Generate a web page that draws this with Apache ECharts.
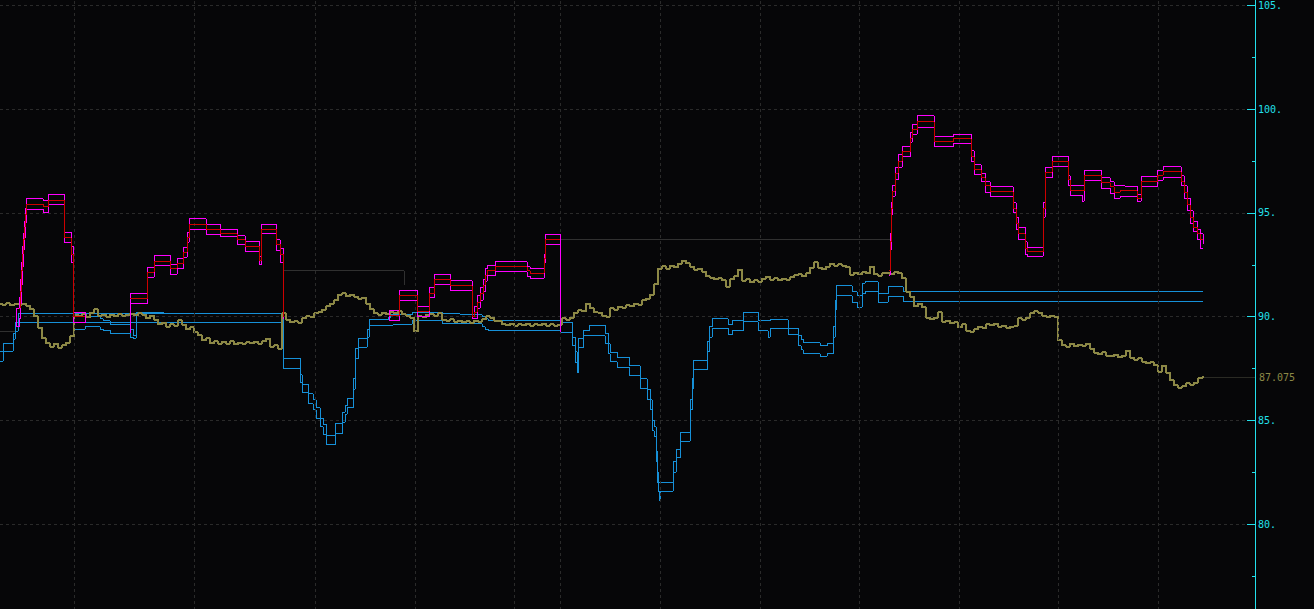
<!DOCTYPE html>
<html>
<head>
<meta charset="utf-8">
<script src="https://cdn.jsdelivr.net/npm/echarts@6/dist/echarts.min.js"></script>
<style>
html,body{margin:0;padding:0;background:#060608;}
#c{width:1314px;height:609px;}
#c svg path{shape-rendering:crispEdges;}
</style>
</head>
<body>
<div id="c"></div>
<script>
// ---------- DATA ----------
const X_MAX = 1255;                // session index at the axis
const monthLines = [74, 194, 315, 415, 514, 560, 660, 760, 859, 959, 1058, 1158];
const yTicks = [75, 80, 85, 90, 95, 100, 105, 110];

// price, one value every PRICE_STEP sessions from PRICE_START
const PRICE_START = 0, PRICE_STEP = 4;
const price = [
90.62,90.58,90.64,90.55,90.60,90.57,90.63,90.52,90.35,90.02,
89.45,88.95,88.72,88.55,88.68,88.50,88.62,88.75,89.05,90.10,
90.02,90.12,89.98,90.18,90.35,90.05,90.10,89.98,90.08,90.02,
90.12,90.04,90.10,90.14,90.06,90.16,90.08,89.92,90.05,89.85,
89.62,89.70,89.50,89.62,89.55,89.82,89.60,89.40,89.48,89.25,
89.10,88.85,88.95,88.72,88.80,88.68,88.78,88.70,88.80,88.66,
88.74,88.70,88.76,88.72,88.78,88.70,88.82,88.92,88.55,88.62,
88.45,90.15,89.85,89.72,89.78,89.70,89.92,90.02,89.98,90.15,
90.20,90.32,90.50,90.62,90.80,91.05,91.12,90.98,91.05,90.95,
90.85,90.90,90.62,90.35,90.15,90.08,90.18,90.12,90.22,90.15,
90.25,90.12,90.05,89.95,89.30,90.02,89.98,90.08,90.12,90.05,
90.15,89.85,89.80,89.88,89.75,89.80,89.72,89.78,89.70,89.80,
89.76,89.88,90.02,89.95,89.80,89.78,89.62,89.58,89.65,89.55,
89.62,89.58,89.65,89.55,89.62,89.58,89.66,89.56,89.62,89.55,
89.60,89.92,89.85,89.95,90.18,90.30,90.25,90.62,90.40,90.22,
90.18,90.05,90.00,90.40,90.32,90.48,90.42,90.55,90.50,90.62,
90.58,90.78,90.85,91.05,91.55,92.30,92.42,92.30,92.45,92.38,
92.55,92.70,92.58,92.40,92.25,92.30,92.15,91.95,91.88,91.80,
91.85,91.75,91.45,91.80,91.95,92.25,91.72,91.80,91.65,91.75,
91.68,91.82,91.92,91.78,91.85,91.75,91.82,91.78,91.90,92.00,
92.05,91.95,92.10,92.35,92.62,92.35,92.28,92.40,92.55,92.45,
92.52,92.45,92.38,92.02,92.12,92.05,92.15,92.10,92.40,92.05,
91.98,92.08,92.12,92.05,92.15,92.10,91.85,91.20,90.95,90.50,
90.62,90.45,89.95,89.88,89.95,90.22,89.75,89.80,89.68,89.72,
89.48,89.62,89.32,89.28,89.40,89.52,89.45,89.62,89.58,89.65,
89.50,89.55,89.45,89.52,89.55,89.92,89.85,89.95,90.15,90.25,
90.18,90.05,89.98,90.05,89.98,88.85,88.62,88.55,88.68,88.58,
88.65,88.60,88.68,88.45,88.25,88.18,88.28,88.12,88.08,88.15,
88.05,88.12,88.35,88.02,87.92,88.00,87.82,87.75,87.80,87.65,
87.35,87.62,87.30,86.92,86.70,86.58,86.65,86.78,86.72,86.80,
87.02,87.075
];

// upper band (magenta outer high), as [session, level] step points, per segment
const upperHi = [
 [[16,89.5],[16,90.4],[19,90.9],[20,91.8],[21,92.6],[22,93.4],[23,94.0],[24,94.6],[25,95.2],[26,95.68],[43,95.62],[48,95.89],[64,94.06],[71,93.4],[73,90.2],[85,89.7]],
 [[130,89.2],[130,91.11],[147,92.37],[154,92.96],[170,92.52],[177,92.8],[183,93.34],[187,94.06],[189,94.72],[206,94.45],[220,94.2],[237,93.9],[245,93.63],[259,92.9],[261,94.46],[276,93.7],[280,93.3],[283,89.9]],
 [[389,89.8],[389,90.3],[399,91.26],[417,90.5],[429,91.4],[434,92.04],[450,91.72],[472,90.0],[474,90.5],[477,91.0],[480,91.4],[483,91.8],[485,92.3],[487,92.44],[495,92.64],[527,92.4],[530,92.32],[544,93.0],[545,93.96],[560,89.25]],
 [[889,92.2],[890,94.0],[891,95.5],[892,96.3],[895,97.2],[898,97.8],[902,98.2],[910,98.9],[912,99.25],[917,99.69],[934,98.66],[953,98.8],[971,98.0],[974,97.33],[981,96.9],[985,96.5],[990,96.26],[1013,95.5],[1016,94.8],[1018,94.3],[1025,93.6],[1027,93.33],[1043,95.5],[1045,97.2],[1052,97.73],[1068,96.8],[1070,96.32],[1084,97.06],[1101,96.7],[1110,96.5],[1114,96.3],[1120,96.29],[1137,95.9],[1141,96.74],[1157,97.06],[1163,97.22],[1181,96.8],[1184,96.3],[1187,95.7],[1190,95.1],[1193,94.6],[1197,94.2],[1200,94.0],[1203,93.5]]
];
// upper band mid (red)
const upperMid = [
 [[19,90.4],[20,91.2],[21,92.2],[22,93.0],[23,93.7],[24,94.3],[25,94.9],[26,95.41],[43,95.3],[48,95.62],[64,93.8],[71,93.0],[73,90.0],[85,90.0]],
 [[130,90.87],[147,92.13],[154,92.68],[170,92.32],[177,92.55],[183,93.1],[187,93.8],[189,94.45],[206,94.2],[220,94.0],[237,93.7],[245,93.4],[259,92.7],[261,94.22],[276,93.5],[280,93.0],[283,90.0]],
 [[389,90.05],[399,91.02],[417,90.27],[429,91.1],[434,91.8],[450,91.48],[472,90.0],[474,90.2],[477,90.7],[480,91.1],[483,91.5],[485,92.0],[487,92.2],[495,92.4],[527,92.2],[530,92.1],[544,92.8],[545,93.72],[560,93.72]],
 [[889,92.2],[890,93.6],[891,95.2],[892,96.05],[895,96.9],[898,97.5],[902,97.95],[910,98.6],[912,99.0],[917,99.39],[934,98.42],[953,98.57],[971,97.7],[974,97.09],[981,96.7],[985,96.3],[990,96.03],[1013,95.2],[1016,94.5],[1018,94.0],[1025,93.3],[1027,93.12],[1043,95.2],[1045,96.95],[1052,97.49],[1068,96.6],[1070,96.08],[1084,96.82],[1101,96.45],[1110,96.25],[1114,96.0],[1120,96.06],[1137,95.7],[1141,96.5],[1157,96.82],[1163,96.98],[1181,96.5],[1184,96.0],[1187,95.4],[1190,94.8],[1193,94.3],[1197,94.0],[1200,93.7],[1203,93.7]]
];
// upper band (magenta outer low)
const upperLo = [
 [[16,89.5],[19,89.9],[20,90.6],[21,91.5],[22,92.4],[23,93.2],[24,93.8],[25,94.5],[26,95.17],[43,95.0],[48,95.41],[64,93.58],[71,92.6],[73,89.7],[85,89.7]],
 [[130,90.63],[147,91.89],[154,92.44],[170,92.04],[177,92.3],[183,92.86],[187,93.58],[189,94.2],[206,93.97],[220,93.85],[237,93.5],[245,93.15],[259,92.5],[261,94.0],[276,93.2],[280,92.6],[283,89.9]],
 [[389,89.8],[399,90.8],[417,90.0],[429,90.9],[434,91.56],[450,91.27],[472,89.9],[474,89.9],[477,90.4],[480,90.8],[483,91.2],[485,91.7],[487,91.96],[495,92.16],[527,91.95],[530,91.84],[544,92.6],[545,93.48],[560,89.25]],
 [[889,92.0],[890,93.2],[891,94.9],[892,95.8],[895,96.6],[898,97.2],[902,97.7],[910,98.4],[912,98.8],[917,99.14],[934,98.18],[953,98.33],[971,97.5],[974,96.85],[981,96.5],[985,96.0],[990,95.78],[1013,95.0],[1016,94.2],[1018,93.7],[1025,93.0],[1027,92.9],[1043,94.8],[1045,96.7],[1052,97.25],[1068,96.3],[1070,95.84],[1082,95.57],[1084,96.58],[1101,96.2],[1110,95.95],[1114,95.7],[1120,95.81],[1137,95.57],[1141,96.26],[1157,96.58],[1163,96.72],[1181,96.3],[1184,95.7],[1187,95.1],[1190,94.5],[1193,94.1],[1197,93.7],[1200,93.3],[1203,93.3]]
];

// lower band (blue high / blue low)
const lowerHi = [[0,88.3],[3,88.68],[13,89.2],[15,89.7],[18,90.16],[73,89.7],[85,90.0],[100,89.9],[103,89.8],[110,89.64],[130,89.4],[133,89.1],[136,90.2],[163,90.16],[283,87.99],[300,87.2],[302,86.75],[308,86.27],[313,86.0],[316,85.6],[320,85.1],[323,84.8],[326,84.27],[335,84.83],[342,85.4],[345,85.7],[347,86.03],[353,87.0],[355,88.44],[358,88.92],[367,89.4],[369,89.86],[388,89.95],[390,90.1],[412,90.22],[442,90.14],[460,90.1],[482,90.0],[485,89.9],[488,89.8],[560,89.73],[572,89.0],[575,88.3],[577,87.63],[578,88.92],[583,89.32],[589,89.59],[605,89.2],[608,88.7],[610,88.28],[617,88.04],[629,87.64],[640,87.0],[647,86.5],[650,86.0],[652,85.0],[654,84.7],[656,83.5],[657,82.5],[658,82.0],[673,83.0],[676,83.6],[680,84.43],[690,86.0],[692,87.0],[693,87.9],[707,88.8],[709,89.5],[712,89.9],[728,89.6],[732,89.8],[743,90.22],[758,89.8],[770,89.84],[788,89.44],[798,89.1],[801,88.9],[803,88.73],[820,88.6],[827,88.7],[833,89.5],[835,90.8],[836,91.49],[852,91.2],[857,91.0],[862,91.6],[865,91.69],[878,91.1],[888,91.45],[903,91.19],[1203,91.19]];
const lowerLo = [[0,87.85],[3,88.34],[13,88.9],[15,89.3],[18,89.7],[73,89.4],[85,89.5],[100,89.4],[103,89.33],[110,89.2],[130,89.0],[133,88.95],[136,89.72],[163,89.7],[283,87.48],[300,86.8],[302,86.35],[308,85.8],[313,85.5],[316,85.1],[320,84.7],[323,84.3],[326,83.82],[335,84.35],[342,84.9],[345,85.3],[347,85.6],[353,86.5],[355,87.96],[358,88.52],[367,89.0],[369,89.59],[390,89.62],[412,89.82],[442,89.66],[482,89.5],[485,89.4],[488,89.32],[560,89.25],[572,88.6],[575,87.8],[577,87.3],[578,88.5],[583,89.08],[605,88.7],[608,88.2],[610,87.83],[617,87.56],[629,87.16],[640,86.52],[647,86.0],[650,85.5],[652,84.5],[654,84.2],[656,83.0],[657,82.0],[658,81.58],[659,81.15],[660,81.58],[673,82.5],[676,83.2],[680,83.98],[690,85.5],[692,86.5],[693,87.44],[707,88.3],[709,89.0],[712,89.44],[728,89.12],[732,89.32],[743,89.74],[758,89.32],[768,89.0],[770,89.44],[788,89.12],[798,88.6],[801,88.4],[803,88.2],[820,88.1],[827,88.2],[833,89.0],[835,90.3],[836,91.01],[852,90.7],[857,90.45],[862,91.1],[865,91.19],[878,90.7],[888,90.97],[903,90.73],[1203,90.73]];

// held lower-band levels (blue) and held stop levels (grey)
const lowerHold = [
 [[73,90.16],[163,90.16]],
 [[73,89.7],[163,89.7]]
];
const greyHold = [
 [[0,89.3],[15,89.3]],
 [[283,92.2],[404,92.2],[404,91.5]],
 [[560,93.72],[890,93.72]]
];

// ---------- CHART ----------
const C = {
  bg:'#060608', grid:'#2a2a2a', cyan:'#22e0ec', olive:'#8c8846',
  magenta:'#ff00ff', red:'#cc0000', blue:'#1690d8', grey:'#303030'
};
const chart = echarts.init(document.getElementById('c'), null, {renderer:'svg'});

const series = [];
// vertical month grid
series.push({
  type:'line', data:[], silent:true,
  markLine:{ silent:true, symbol:['none','none'], label:{show:false},
    lineStyle:{color:C.grid, type:[3,3], width:1},
    data: monthLines.map(x=>({xAxis:x})) }
});
function stepSeries(pts, color, z){
  return {type:'line', step:'end', data:pts, showSymbol:false, symbol:'none',
    lineStyle:{color, width:1}, z, silent:true};
}
greyHold.forEach(s=>series.push(stepSeries(s, C.grey, 2)));
lowerHold.forEach(s=>series.push(stepSeries(s, C.blue, 3)));
series.push(stepSeries(lowerHi, C.blue, 3));
series.push(stepSeries(lowerLo, C.blue, 3));

const lastV = price[price.length-1];
const lastX = PRICE_START + (price.length-1)*PRICE_STEP;
series.push({
  type:'line', step:'middle', data: price.map((v,i)=>[PRICE_START + i*PRICE_STEP, v]),
  showSymbol:false, symbol:'none', lineStyle:{color:C.olive, width:2}, z:4, silent:true,
  markLine:{ silent:true, symbol:['none','none'],
    lineStyle:{color:'#2a2a24', type:'solid', width:1},
    label:{show:true, position:'end', formatter:String(lastV), color:C.olive,
      fontFamily:'DejaVu Sans Mono', fontSize:10, distance:4},
    data:[[{coord:[lastX,lastV]},{coord:[X_MAX,lastV]}]] }
});
upperHi.forEach(s=>series.push(stepSeries(s, C.magenta, 5)));
upperLo.forEach(s=>series.push(stepSeries(s, C.magenta, 5)));
upperMid.forEach(s=>series.push(stepSeries(s, C.red, 6)));

chart.setOption({
  animation:false,
  backgroundColor:C.bg,
  grid:{left:0, right:1314-X_MAX, top:-98.2, bottom:-18.7, containLabel:false, outerBoundsMode:'none'},
  xAxis:{type:'value', min:0, max:X_MAX, show:false},
  yAxis:{
    type:'value', position:'right', min:yTicks[0], max:yTicks[yTicks.length-1], interval:5,
    axisLine:{show:true, onZero:false, lineStyle:{color:C.cyan, width:1}},
    axisTick:{show:true, inside:true, length:8, lineStyle:{color:C.cyan}},
    minorTick:{show:true, splitNumber:2, length:3, lineStyle:{color:C.cyan}},
    axisLabel:{color:C.cyan, fontFamily:'DejaVu Sans Mono', fontSize:10, margin:3,
      showMinLabel:false, showMaxLabel:false,
      formatter:v=>v+'.'},
    splitLine:{show:true, lineStyle:{color:C.grid, type:[3,3], width:1}}
  },
  series
});
</script>
</body>
</html>
